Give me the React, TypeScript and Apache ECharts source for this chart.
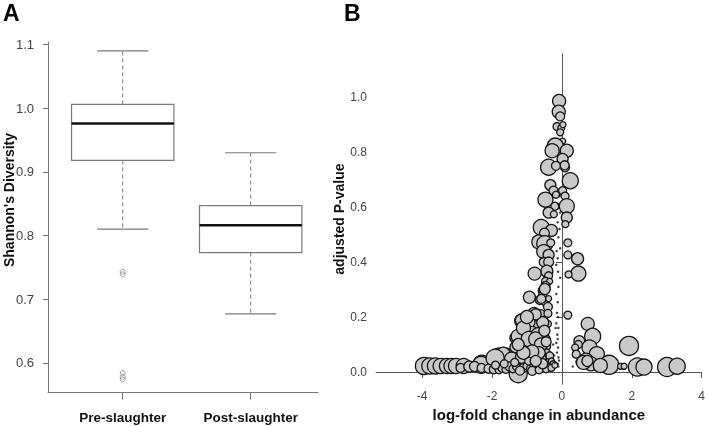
import React, { useEffect, useRef } from "react";
import * as echarts from "echarts";

// ---------- Panel A data ----------
const groups = ["Pre-slaughter", "Post-slaughter"];
const boxMin = [0.81, 0.677];
const boxQ1 = [0.918, 0.773];
const boxMedian = [0.976, 0.816];
const boxQ3 = [1.006, 0.847];
const boxMax = [1.09, 0.93];
const outlierGroup = [1, 1, 1, 1, 1];
const outlierValue = [0.743, 0.739, 0.584, 0.578, 0.574];
const diversityTicks = [0.6, 0.7, 0.8, 0.9, 1.0, 1.1];

// ---------- Panel B data ----------
const bubbleLogFC = [
  -0.08, -0.09, -0.05, -0.14, -0.02, -0.05, 0.02, 0.03, -0.19, -0.28, 0.14, 0.02, 0.09, -0.38, -0.17, 0.08,
  0.24, -0.33, -0.24, 0.02, 0.09, -0.47, -0.17, 0.14, -0.2, -0.38, 0.14, 0.1, -0.23, -0.59, -0.3, -0.5,
  -0.66, -0.49, -0.32, -0.52, -0.38, 0.17, 0.17, 0.45, -0.52, -0.38, -0.43, -0.78, 0.47, 0.19, -0.38,
  -0.47, -0.35, -0.47, -0.55, -0.93, -0.55, -0.63, -0.48, -0.38, -0.59, -0.49, -0.4,
  -0.8, -0.62, -0.4, 0.17, -1.18, -0.88, -0.68, -0.4, -0.97, -1.16,
  -1.33, -1.05, -0.85, -0.57, -0.49, -1.25, -0.68,
  -1.33, -1.04, -0.72, -0.45, -0.78,
  -1.59, -1.82, -0.96, -0.7, -0.45, -0.35, -1.68, -1.44, -1.16, -0.87, -0.59,
  -2.29, -2.0, -1.25,
  0.74, 0.88, 0.5, 0.47, 0.38, 0.79, 0.41, 1.0, 0.69, 0.5, 0.83, 0.62, 0.73, 1.35, 1.68, 1.78, 1.92,
  2.16, 2.35, 3.01, 3.3, 1.1,
  -3.95, -3.78, -3.62, -3.47, -3.29, -3.16, -3.03, -2.81, -2.31, -1.91,
  -2.9, -2.65, -2.5, -2.3, -2.1, -1.95, -1.8, -1.7, -1.6, -1.5, -1.4, -1.3, -1.1, -1.0, -0.9, -0.8,
  -0.7, -0.6, -0.5, -0.4, -0.35, -0.3, -0.25, -1.9, -1.65, -1.35, -0.95, -0.7, -0.55, -1.2, -0.85,
  -0.65, -0.45, -0.3, -0.2,
  -1.1, -0.95, -0.75, -0.6, -0.55, -0.75, -1.0, -0.5, -0.45, -0.65, -0.85, -1.1, -1.25, -0.55, -0.75,
];
const bubblePadj = [
  0.986, 0.947, 0.93, 0.893, 0.887, 0.872, 0.84, 0.9, 0.822, 0.805, 0.805, 0.775, 0.745, 0.745, 0.75, 0.752,
  0.696, 0.68, 0.66, 0.66, 0.64, 0.627, 0.645, 0.603, 0.603, 0.58, 0.562, 0.538, 0.574, 0.526, 0.515, 0.505,
  0.473, 0.467, 0.47, 0.438, 0.426, 0.47, 0.426, 0.412, 0.4, 0.4, 0.367, 0.358, 0.358, 0.355, 0.35,
  0.33, 0.33, 0.313, 0.296, 0.272, 0.28, 0.262, 0.255, 0.267, 0.266, 0.302, 0.237,
  0.213, 0.201, 0.213, 0.207, 0.186, 0.183, 0.17, 0.175, 0.183, 0.189,
  0.124, 0.142, 0.14, 0.145, 0.118, 0.13, 0.136,
  0.09, 0.095, 0.092, 0.095, 0.089,
  0.065, 0.057, 0.065, 0.06, 0.07, 0.059, 0.065, 0.047, 0.053, 0.047, 0.055,
  0.03, 0.024, -0.006,
  0.175, 0.13, 0.112, 0.1, 0.089, 0.089, 0.065, 0.065, 0.041, 0.036, 0.03, 0.035, 0.04, 0.026, 0.021, 0.021, 0.095,
  0.018, 0.018, 0.018, 0.021, 0.024,
  0.022, 0.022, 0.022, 0.022, 0.022, 0.022, 0.022, 0.022, 0.026, 0.05,
  0.015, 0.02, 0.02, 0.015, 0.012, 0.01, 0.008, 0.015, 0.01, 0.02, 0.012, 0.02, 0.015, 0.022, 0.012, 0.025,
  0.018, 0.03, 0.022, 0.035, 0.02, 0.04, 0.03, 0.025, 0.03, 0.035, 0.04, 0.045, 0.05, 0.005, 0.004,
  0.008, 0.01, 0.015, 0.025,
  0.16, 0.12, 0.12, 0.1, 0.18, 0.21, 0.2, 0.15, 0.11, 0.07, 0.075, 0.07, 0.1, 0.03, 0.04,
];
const bubbleSize = [
  13, 13, 9, 8, 7, 7, 6, 6, 16, 14, 13, 11, 9, 16, 9, 9,
  16, 11, 9, 8, 8, 15, 7, 15, 8, 11, 11, 7, 7, 16, 12, 10,
  14, 16, 8, 14, 11, 8, 8, 12, 9, 10, 12, 13, 15, 7, 8,
  8, 6, 9, 9, 12, 8, 9, 8, 6, 9, 11, 9,
  12, 14, 8, 8, 12, 12, 11, 7, 14, 12,
  11, 15, 14, 11, 11, 14, 14,
  11, 14, 14, 9, 14,
  12, 16, 11, 10, 8, 8, 14, 14, 12, 12, 10,
  17, 11, 18,
  13, 16, 11, 8, 7, 15, 8, 15, 15, 7, 14, 14, 11, 19, 6, 6, 19,
  18, 16, 19, 16, 14,
  17, 16, 16, 15, 15, 15, 15, 15, 17, 18,
  9, 11, 10, 9, 9, 9, 8, 9, 8, 9, 8, 8, 9, 8, 8, 8,
  7, 7, 7, 7, 6, 6, 6, 8, 8, 8, 8, 7, 7, 9, 9,
  8, 7, 7, 6,
  14, 15, 14, 13, 12, 11, 13, 11, 10, 12, 13, 13, 12, 10, 11,
];
const dotLogFC = [
  -0.1, -0.12, -0.08, -0.1, -0.14, -0.11, -0.16, -0.12, -0.13, -0.1, -0.16, -0.11, -0.14, -0.12, -0.16,
  -0.1, -0.05, -0.11, -0.16, -0.12, -0.05, -0.1, -0.07, -0.12, -0.05, -0.1, -0.22, -0.25, 0.31, -0.18,
  -0.06, -0.15, -0.2,
];
const dotPadj = [
  0.02, 0.03, 0.042, 0.053, 0.071, 0.089, 0.106, 0.12, 0.136, 0.16, 0.177, 0.2, 0.215, 0.254, 0.284,
  0.31, 0.343, 0.365, 0.39, 0.414, 0.45, 0.49, 0.52, 0.545, 0.58, 0.61, 0.06, 0.1, 0.02, 0.16,
  0.64, 0.44, 0.035,
];
const pTicks = [0, 0.2, 0.4, 0.6, 0.8, 1.0];
const fcTicks = [-4, -2, 0, 2, 4];

const FONT = "'Liberation Sans', Arial, Helvetica, sans-serif";

export default function App() {
  const ref = useRef<HTMLDivElement>(null);
  useEffect(() => {
    if (!ref.current) return;
    const chart = echarts.init(ref.current, undefined, { renderer: "svg" });

    const boxData = groups.map((_, i) => [i + 1, boxMin[i], boxQ1[i], boxMedian[i], boxQ3[i], boxMax[i]]);
    const outlierData = outlierValue.map((v, i) => [outlierGroup[i], v]);
    const bubbleData = bubbleLogFC.map((x, i) => [x, bubblePadj[i], bubbleSize[i]]);
    const dotData = dotLogFC.map((x, i) => [x, dotPadj[i]]);

    const greyAxis = { lineStyle: { color: "#777", width: 1 } };

    chart.setOption({
      animation: false,
      textStyle: { fontFamily: FONT },
      graphic: [
        { type: "text", left: 3, top: 1, style: { text: "A", font: `bold 23px ${FONT}`, fill: "#000" } },
        { type: "text", left: 344, top: 1, style: { text: "B", font: `bold 23px ${FONT}`, fill: "#000" } },
        {
          type: "text",
          x: 9,
          y: 200,
          rotation: Math.PI / 2,
          style: {
            text: "Shannon's Diversity",
            font: `bold 14px ${FONT}`,
            fill: "#111",
            align: "center",
            verticalAlign: "middle",
          },
        },
      ],
      grid: [
        { left: 48, top: 42, width: 270, height: 350.7 },
        { left: 376, top: 54, width: 328, height: 338.3 },
      ],
      xAxis: [
        {
          gridIndex: 0,
          type: "value",
          min: 0.416,
          max: 2.526,
          axisLine: greyAxis,
          splitLine: { show: false },
          axisTick: { show: true, customValues: [1, 2], length: 7, lineStyle: { color: "#777" } },
          axisLabel: {
            customValues: [1, 2],
            formatter: (v: number) => groups[Math.round(v) - 1] ?? "",
            color: "#111",
            fontWeight: "bold",
            fontSize: 13.5,
            margin: 18,
            fontFamily: FONT,
          },
        },
        {
          gridIndex: 1,
          type: "value",
          min: -5.32,
          max: 4,
          axisLine: { lineStyle: { color: "#555", width: 1 } },
          splitLine: { show: false },
          axisTick: { show: true, customValues: fcTicks, length: 6, lineStyle: { color: "#555" } },
          axisLabel: {
            customValues: fcTicks,
            formatter: (v: number) => String(v),
            color: "#444",
            fontSize: 12,
            margin: 6,
            fontFamily: FONT,
          },
          name: "log-fold change in abundance",
          nameLocation: "middle",
          nameGap: 18,
          nameTextStyle: { fontWeight: "bold", fontSize: 15, color: "#111", fontFamily: FONT },
        },
      ],
      yAxis: [
        {
          gridIndex: 0,
          type: "value",
          min: 0.553,
          max: 1.104,
          axisLine: { show: true, ...greyAxis },
          splitLine: { show: false },
          axisTick: { show: true, customValues: diversityTicks, length: 5, lineStyle: { color: "#777" } },
          axisLabel: {
            customValues: diversityTicks,
            formatter: (v: number) => v.toFixed(1),
            color: "#444",
            fontSize: 13,
            margin: 14,
            fontFamily: FONT,
          },
        },
        {
          gridIndex: 1,
          type: "value",
          min: -0.044,
          max: 1.157,
          axisLine: { show: true, lineStyle: { color: "#555", width: 1 } },
          splitLine: { show: false },
          axisTick: { show: true, customValues: pTicks, length: 6, lineStyle: { color: "#555" } },
          axisLabel: {
            customValues: pTicks,
            formatter: (v: number) => v.toFixed(1),
            color: "#444",
            fontSize: 12,
            margin: 9,
            fontFamily: FONT,
          },
          name: "adjusted P-value",
          nameLocation: "middle",
          nameGap: 28,
          nameTextStyle: { fontWeight: "bold", fontSize: 14, color: "#111", fontFamily: FONT },
        },
      ],
      series: [
        {
          type: "custom",
          xAxisIndex: 0,
          yAxisIndex: 0,
          data: boxData,
          encode: { x: 0, y: [1, 2, 3, 4, 5] },
          renderItem: (params: any, api: any) => {
            const x = api.value(0);
            const pMin = api.coord([x, api.value(1)]);
            const pQ1 = api.coord([x, api.value(2)]);
            const pMed = api.coord([x, api.value(3)]);
            const pQ3 = api.coord([x, api.value(4)]);
            const pMax = api.coord([x, api.value(5)]);
            const half = api.size([0.8, 0])[0] / 2;
            const cx = pMed[0];
            const grey = "#7a7a7a";
            return {
              type: "group",
              children: [
                { type: "line", shape: { x1: cx, y1: pQ3[1], x2: cx, y2: pMax[1] }, style: { stroke: grey, lineWidth: 1, lineDash: [4, 3] } },
                { type: "line", shape: { x1: cx, y1: pQ1[1], x2: cx, y2: pMin[1] }, style: { stroke: grey, lineWidth: 1, lineDash: [4, 3] } },
                { type: "line", shape: { x1: cx - half / 2, y1: pMax[1], x2: cx + half / 2, y2: pMax[1] }, style: { stroke: grey, lineWidth: 1.2 } },
                { type: "line", shape: { x1: cx - half / 2, y1: pMin[1], x2: cx + half / 2, y2: pMin[1] }, style: { stroke: grey, lineWidth: 1.2 } },
                { type: "rect", shape: { x: cx - half, y: pQ3[1], width: half * 2, height: pQ1[1] - pQ3[1] }, style: { fill: "#fff", stroke: grey, lineWidth: 1.2 } },
                { type: "line", shape: { x1: cx - half, y1: pMed[1], x2: cx + half, y2: pMed[1] }, style: { stroke: "#111", lineWidth: 2.6 } },
              ],
            };
          },
        },
        {
          type: "scatter",
          xAxisIndex: 0,
          yAxisIndex: 0,
          data: outlierData,
          symbol: "circle",
          symbolSize: 5,
          itemStyle: { color: "rgba(255,255,255,0)", borderColor: "#888", borderWidth: 1 },
        },
        {
          type: "scatter",
          xAxisIndex: 1,
          yAxisIndex: 1,
          data: bubbleData,
          symbol: "circle",
          symbolSize: (v: number[]) => v[2],
          itemStyle: { color: "#c9c9c9", borderColor: "#151515", borderWidth: 1.3, opacity: 1 },
        },
        {
          type: "scatter",
          xAxisIndex: 1,
          yAxisIndex: 1,
          data: dotData,
          symbol: "circle",
          symbolSize: 2.5,
          itemStyle: { color: "#111" },
        },
      ],
    });
    return () => chart.dispose();
  }, []);
  return <div ref={ref} style={{ position: "fixed", left: 0, top: 0, width: 708, height: 427 }} />;
}
